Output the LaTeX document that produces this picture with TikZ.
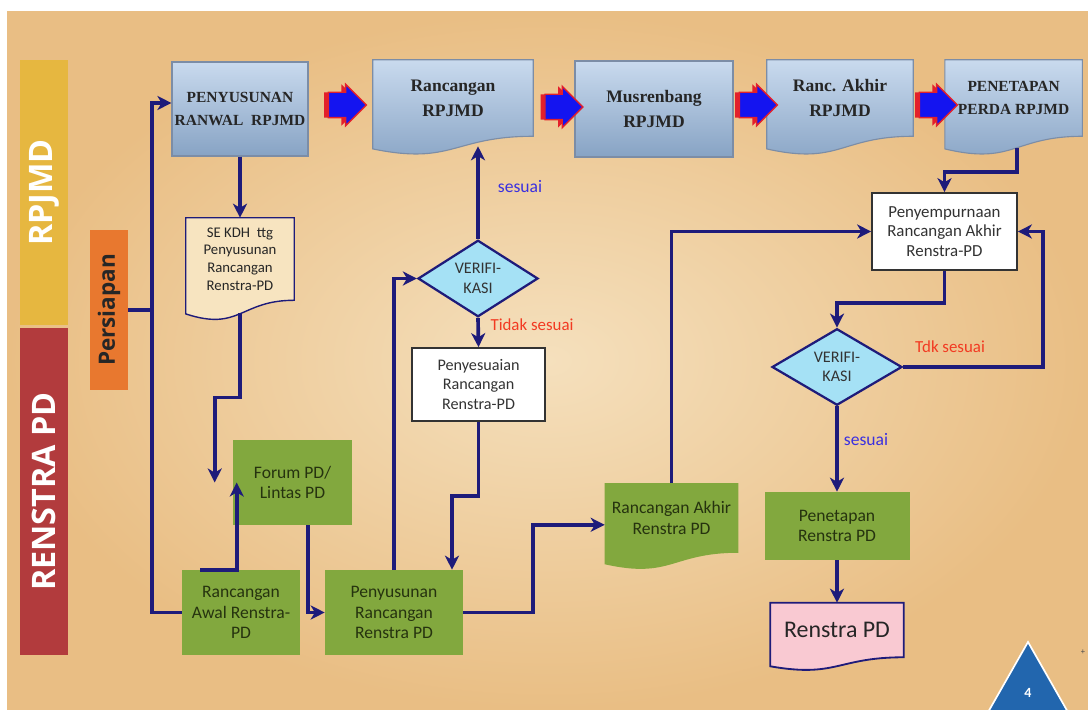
\documentclass[tikz,border=0pt]{standalone}
\usepackage{fontspec}
\setmainfont{Carlito}
\newfontfamily\capsfont{Liberation Serif}
\newfontfamily\bannerfont{Open Sans}
\usepackage{tikz}
\usetikzlibrary{shapes.geometric,shapes.arrows,arrows.meta,calc,shadows,backgrounds}
\definecolor{LineNavy}{HTML}{1E1B7A}
\definecolor{PanelLite}{HTML}{F5E0BD}
\definecolor{PanelDeep}{HTML}{E9BE84}
\definecolor{SkyTop}{HTML}{C9DAEE}
\definecolor{SkyBot}{HTML}{87A3C4}
\definecolor{SkyEdge}{HTML}{7C8DA6}
\definecolor{LeafGreen}{HTML}{82A83E}
\definecolor{LeafText}{HTML}{26330F}
\definecolor{DiaCyan}{HTML}{A5E1F5}
\definecolor{PaperTan}{HTML}{F7E4C0}
\definecolor{RoseFill}{HTML}{F9C9D2}
\definecolor{BanGold}{HTML}{E6B740}
\definecolor{BanRed}{HTML}{B23B3D}
\definecolor{BanOrange}{HTML}{E8782F}
\definecolor{ArrRed}{HTML}{E3202B}
\definecolor{ArrBlue}{HTML}{1414F0}
\definecolor{LabBlue}{HTML}{3A2FE0}
\definecolor{LabRed}{HTML}{F23A22}
\definecolor{TriBlue}{HTML}{2266AE}
\tikzset{
  % Base box
  BX/.style={rectangle,inner sep=1pt,align=center,text centered},
  % RPJMD row
  nS/.style={BX,top color=SkyTop,bottom color=SkyBot,draw=SkyEdge,line width=0.8pt,
             font=\capsfont\bfseries\fontsize{12.5}{18}\selectfont,text=black!85},
  dS/.style={BX,font=\capsfont\bfseries\fontsize{12.5}{18}\selectfont,text=black!85},
  cS/.style={font=\capsfont\bfseries\fontsize{11}{17}\selectfont},
  % Renstra boxes
  nG/.style={BX,fill=LeafGreen,text=LeafText,font=\fontsize{12.5}{14.5}\selectfont},
  dG/.style={BX,text=LeafText,font=\fontsize{12.5}{14.5}\selectfont},
  nW/.style={BX,fill=white,draw=black!80,line width=1.2pt,text=black!80,
             font=\fontsize{12}{14}\selectfont},
  % Decision
  DM/.style={diamond,inner sep=0pt,align=center,fill=DiaCyan,draw=LineNavy,
             line width=1.6pt,font=\fontsize{11.5}{14}\selectfont,text=black!80},
  % Side bands
  BN/.style={rectangle,inner sep=0pt,text=white,rotate=90,
             font=\bannerfont\bfseries\fontsize{23}{23}\selectfont},
  % Block arrows of the top row
  BA/.style={single arrow,single arrow head extend=0.2cm,minimum height=0.95cm,
             inner xsep=0pt,inner ysep=0.3cm,fill=ArrBlue,draw=ArrRed,line width=1pt,
             drop shadow={shadow xshift=-3pt,shadow yshift=0pt,fill=ArrRed,opacity=1}},
  % Connectors
  arr/.style={-{Stealth[length=10pt,width=10pt,inset=3pt]},line width=2.6pt,LineNavy},
  lnk/.style={line width=2.6pt,LineNavy},
  % Label styles
  LY/.style={font=\fontsize{12.5}{14}\selectfont\color{LabBlue}},
  LN/.style={font=\fontsize{12}{14}\selectfont\color{LabRed}}
}
% wavy document outline round a node
\newcommand\docpath[2][]{%
  \path[#1] let \p1=(#2.north west), \p2=(#2.south east), \p3=(#2.south) in
    (\p1) -- (\x2,\y1) -- (\p2)
    .. controls (\x3,\y2) and (\x3,{\y2-0.381*(\y1-\y2)}) .. (\x1,{\y2-0.165*(\y1-\y2)}) -- cycle;}
\begin{document}
\begin{tikzpicture}[x=1cm,y=1cm]
  \useasboundingbox (0,0) rectangle (27.2,17.725);
  \begin{scope}[on background layer]
    \fill[white] (0,0) rectangle (27.2,17.725);
    \fill[inner color=PanelLite,outer color=PanelDeep] (0.175,0) rectangle (27.2,17.425);
  \end{scope}
  % Side bands
  \node[BN,fill=BanGold,minimum width=6.625cm,minimum height=1.2cm] (bRp) at (1.1,12.9125) {RPJMD};
  \node[BN,fill=BanRed,minimum width=8.175cm,minimum height=1.2cm] (bRs) at (1.1,5.4375) {RENSTRA PD};
  \node[BN,fill=BanOrange,text=black!85,minimum width=4cm,minimum height=0.95cm,
        font=\bannerfont\bfseries\fontsize{16}{16}\selectfont] (prs) at (2.725,9.975) {Persiapan};
  % RPJMD row
  \node[nS,cS,minimum width=3.4cm,minimum height=2.35cm] (pen) at (6.0,15.0)
    {PENYUSUNAN\\RANWAL~~RPJMD};
  \node[dS,minimum width=4.0cm,minimum height=1.9cm] (rr) at (11.325,15.275)
    {Rancangan\\RPJMD};
  \node[nS,minimum width=3.95cm,minimum height=2.4cm] (mus) at (16.35,15.0)
    {Musrenbang\\RPJMD};
  \node[dS,minimum width=3.65cm,minimum height=1.9cm] (rar) at (21.0,15.275)
    {Ranc. Akhir\\RPJMD};
  \node[dS,cS,minimum width=3.425cm,minimum height=1.9cm] (pp) at (25.34,15.275)
    {PENETAPAN\\PERDA RPJMD};
  \node[BA] (ba1) at (8.525,15.1) {};
  \node[BA] (ba2) at (13.94,15.05) {};
  \node[BA] (ba3) at (18.8,15.1) {};
  \node[BA] (ba4) at (23.3,15.1) {};
  % Renstra flow
  \node[BX,text=black!85,font=\fontsize{10.5}{12.5}\selectfont,
        minimum width=2.7cm,minimum height=2.05cm] (sek) at (6.0,11.25)
    {SE KDH~~ttg\\Penyusunan\\Rancangan\\Renstra-PD};
  \node[nG,minimum width=2.975cm,minimum height=2.125cm] (forum) at (7.3125,5.6625)
    {Forum PD/\\Lintas PD};
  \node[nG,minimum width=2.95cm,minimum height=2.125cm] (awal) at (6.025,2.4125)
    {Rancangan\\Awal Renstra-\\PD};
  \node[nG,minimum width=3.45cm,minimum height=2.125cm] (prr) at (9.85,2.4125)
    {Penyusunan\\Rancangan\\Renstra PD};
  \node[DM,minimum width=3.0cm,minimum height=1.675cm] (ver1) at (11.95,10.7625)
    {VERIFI-\\KASI};
  \node[nW,font=\fontsize{11.5}{14}\selectfont,minimum width=3.325cm,minimum height=1.825cm]
    (pys) at (11.9625,8.1125) {Penyesuaian\\Rancangan\\Renstra-PD};
  \node[dG,minimum width=3.325cm,minimum height=1.725cm] (rak) at (16.7875,4.775)
    {Rancangan Akhir\\Renstra PD};
  \node[nW,minimum width=3.625cm,minimum height=1.925cm] (psp) at (23.6125,11.9375)
    {Penyempurnaan\\Rancangan Akhir\\Renstra-PD};
  \node[DM,minimum width=3.25cm,minimum height=1.575cm] (ver2) at (20.925,8.55)
    {VERIFI-\\KASI};
  \node[nG,minimum width=3.625cm,minimum height=1.7cm] (pen2) at (20.925,4.575)
    {Penetapan\\Renstra PD};
  \node[BX,text=black!85,font=\fontsize{17}{19}\selectfont,
        minimum width=3.325cm,minimum height=1.35cm] (rpd) at (20.925,1.975) {Renstra PD};
  % Document outlines
  \begin{scope}[on background layer]
    \docpath[top color=SkyTop,bottom color=SkyBot,draw=SkyEdge,line width=0.8pt]{rr}
    \docpath[top color=SkyTop,bottom color=SkyBot,draw=SkyEdge,line width=0.8pt]{rar}
    \docpath[top color=SkyTop,bottom color=SkyBot,draw=SkyEdge,line width=0.8pt]{pp}
    \docpath[fill=PaperTan,draw=LineNavy,line width=1pt]{sek}
    \docpath[fill=LeafGreen]{rak}
    \docpath[fill=RoseFill,draw=LineNavy,line width=1.3pt]{rpd}
  \end{scope}
  % Labels
  \node[LY] (ok1) at (13.0,13.05) {sesuai};
  \node[LN] (no1) at (13.3,9.6) {Tidak sesuai};
  \node[LN] (no2) at (23.75,9.05) {Tdk sesuai};
  \node[LY] (ok2) at (21.65,6.725) {sesuai};
  % Connectors
  \coordinate (spine) at (3.8,9.975);
  \draw[lnk] (prs.south) -- (spine);
  \draw[arr] (spine) |- ([yshift=0.15cm]pen.west);
  \draw[lnk] (spine) |- (awal.west);
  \draw[arr] (pen.south) -- (sek.north);
  \draw[arr] ([yshift=-0.33cm]sek.south) -- ++(0,-2.1) -| ([xshift=-0.45cm]forum.west);
  \draw[arr] ([xshift=-1.025cm]awal.north) -| ([xshift=0.1cm]forum.west);
  \draw[arr] ([xshift=0.39cm]forum.south) |- (prr.west);
  \draw[arr] (prr.north) |- (ver1.west);
  \draw[arr] (ver1.north) -- ($(ver1.north |- rr.south)+(0,-0.25)$);
  \draw[arr] (ver1.south) -- (pys.north);
  \draw[arr] (pys.south) -- ++(0,-1.85) -| ([xshift=1.45cm]prr.north);
  \draw[arr] (prr.east) -- ++(1.75,0) |- ([yshift=-0.17cm]rak.west);
  \draw[arr] (rak.north) |- (psp.west);
  \draw[arr] ([xshift=0.085cm,yshift=-0.3cm]pp.south) -- ++(0,-0.6) -| (psp.north);
  \draw[arr] (psp.south) -- ++(0,-0.8) -| (ver2.north);
  \coordinate (loopR) at (26.075,11.9375);
  \draw[arr] (ver2.east) -| (loopR) -- (psp.east);
  \draw[arr] (ver2.south) -- (pen2.north);
  \draw[arr] (pen2.south) -- (rpd.north);
  % Page mark
  \fill[TriBlue,draw=white,line width=1.2pt] (25.7,1.675) -- (24.575,-0.3) -- (26.825,-0.3) -- cycle;
  \node[text=white,font=\bfseries\fontsize{10}{10}\selectfont] (pgNo) at (25.7,0.4) {4};
  \node[font=\fontsize{6}{6}\selectfont,text=black!70] (plusMk) at (27.075,1.425) {+};
\end{tikzpicture}
\end{document}
